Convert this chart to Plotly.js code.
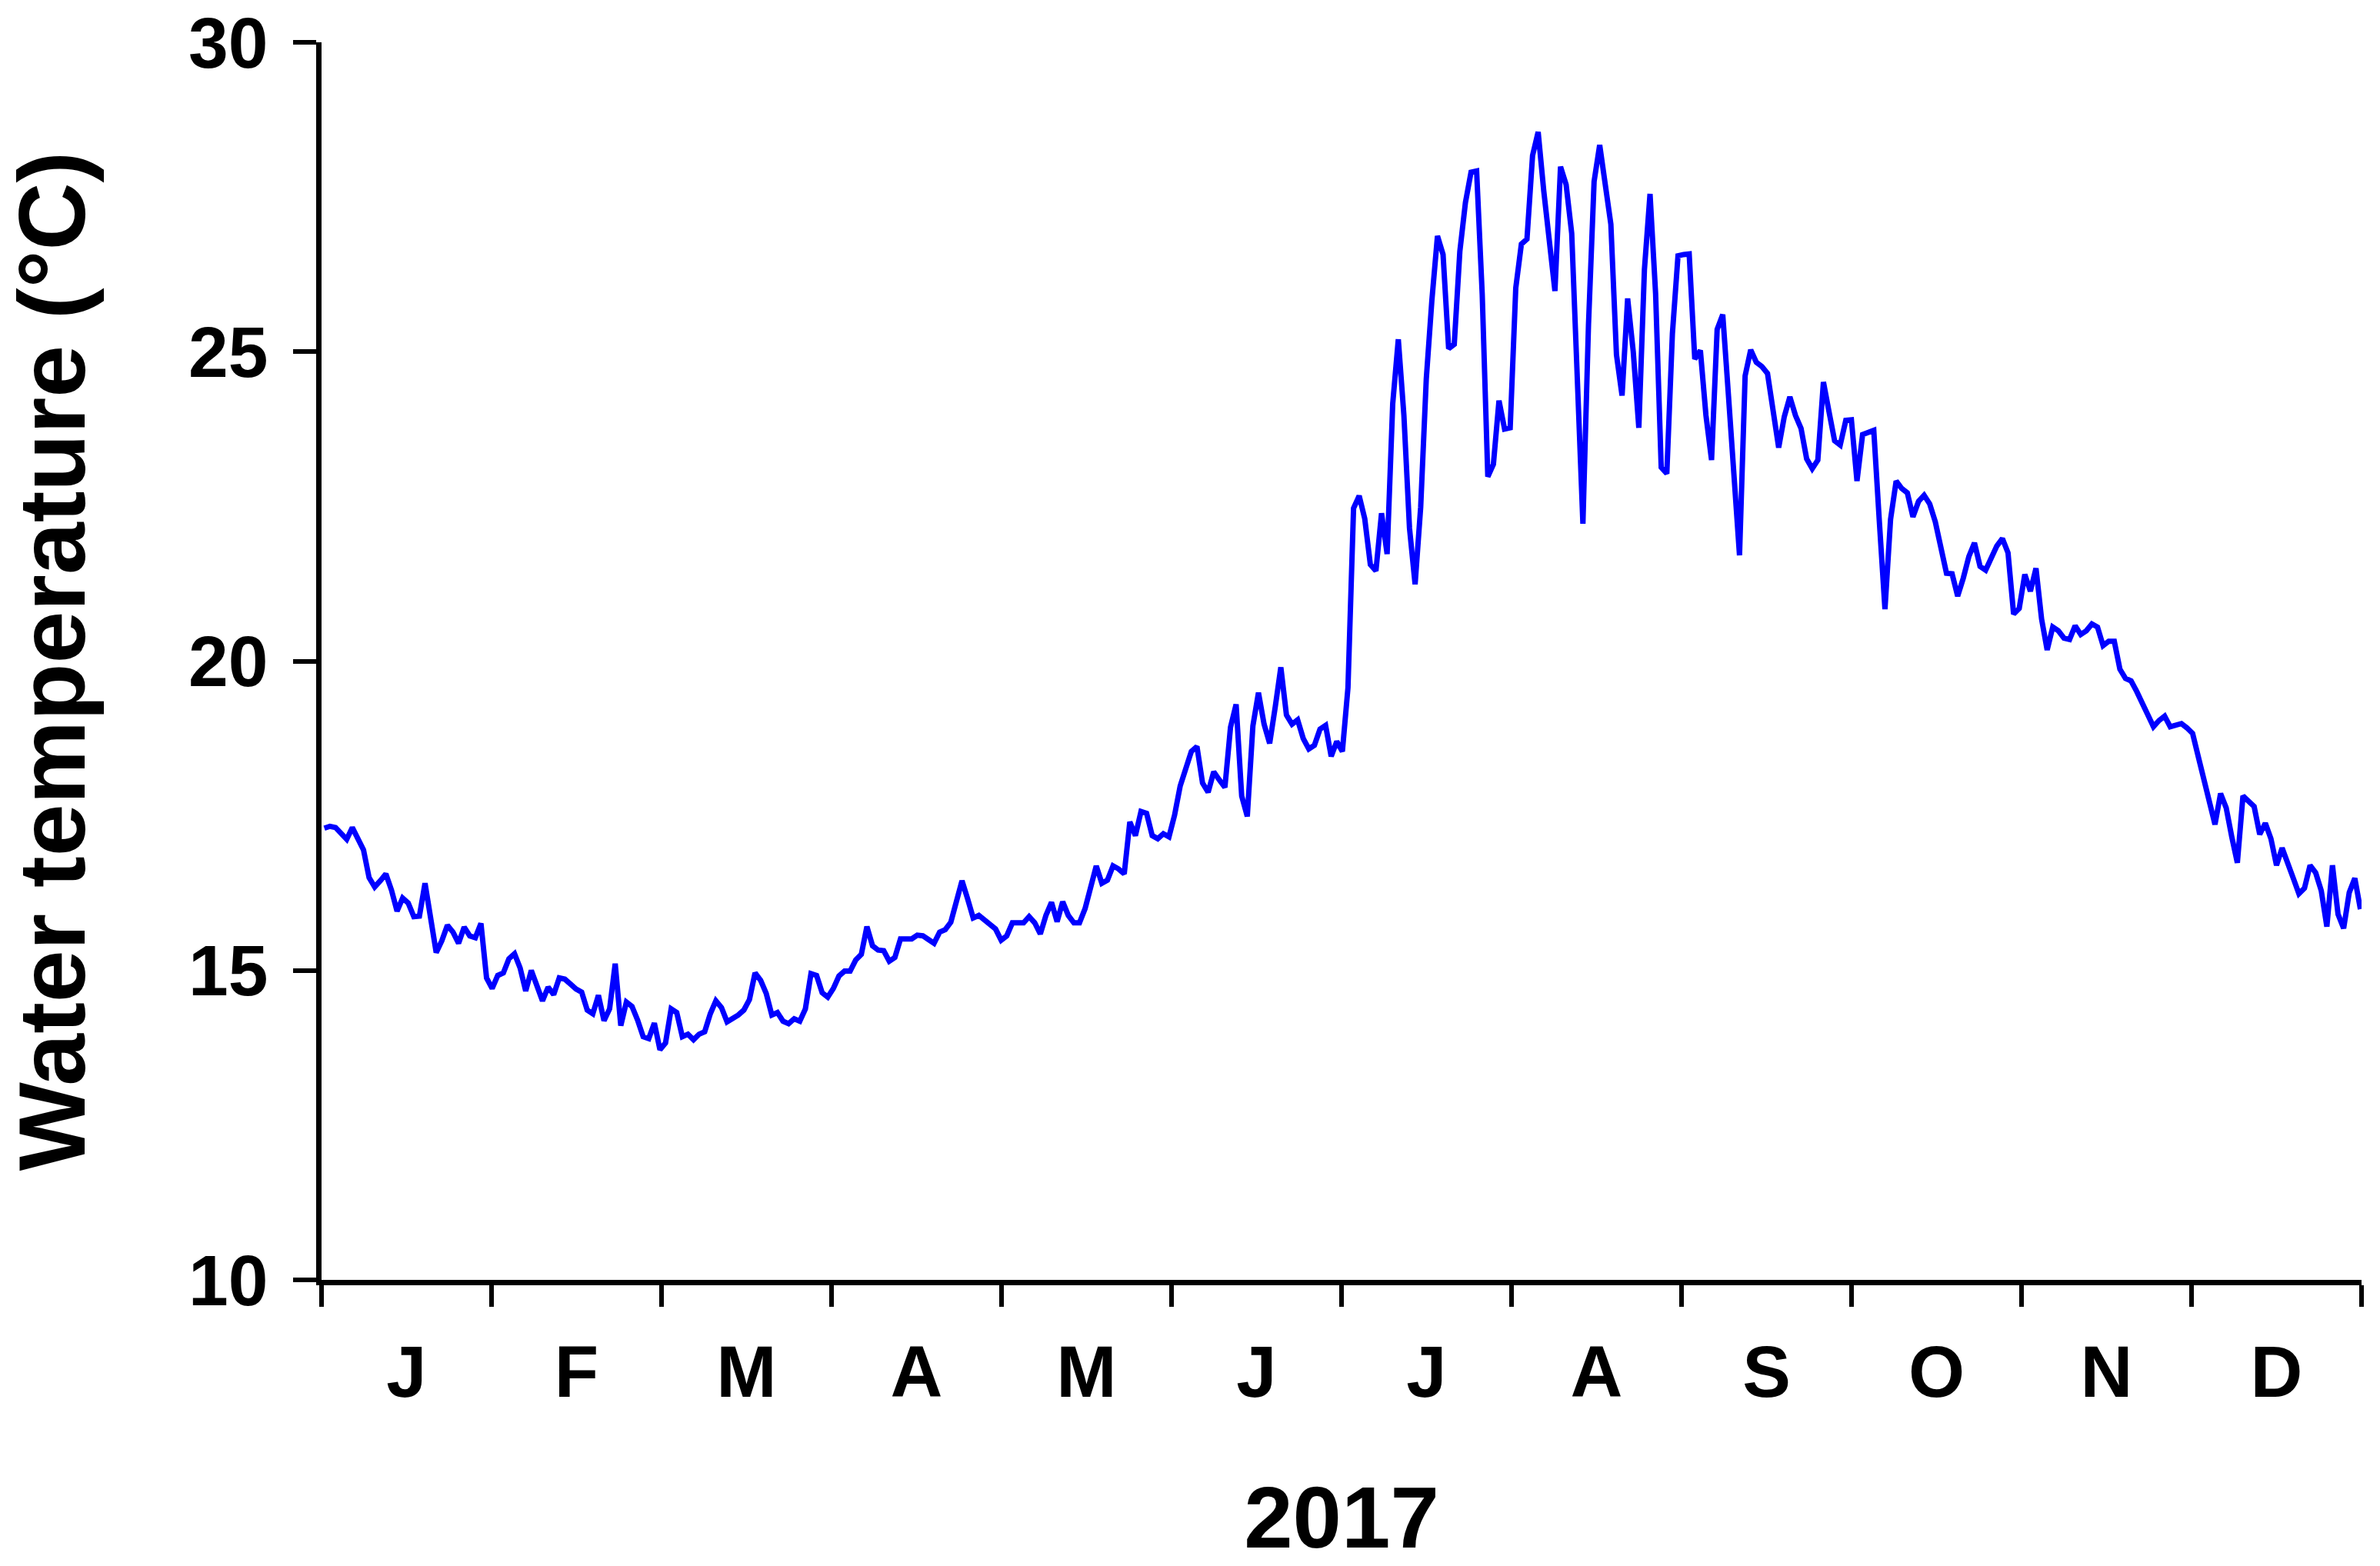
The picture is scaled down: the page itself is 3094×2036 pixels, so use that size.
<!DOCTYPE html>
<html>
<head>
<meta charset="utf-8">
<script src="https://cdn.plot.ly/plotly-3.0.1.min.js"></script>
<style>
  body { margin: 0; background: #fff; }
</style>
</head>
<body>
<div id="chart" style="width:3094px;height:2036px"></div>
<script>
// month initials shown under the axis
const months = ['J', 'F', 'M', 'A', 'M', 'J', 'J', 'A', 'S', 'O', 'N', 'D']

// daily water temperature, 2017 (deg C)
const temps = [
  17.30, 17.33, 17.31, 17.22, 17.12, 17.31, 17.15, 16.95, 16.50, 16.35,
  16.45, 16.56, 16.30, 15.96, 16.17, 16.09, 15.87, 15.88, 16.41, 15.85,
  15.29, 15.48, 15.73, 15.62, 15.44, 15.70, 15.56, 15.53, 15.76, 14.88,
  14.71, 14.92, 14.96, 15.19, 15.27, 15.04, 14.67, 15.00, 14.75, 14.51,
  14.73, 14.61, 14.88, 14.86, 14.78, 14.70, 14.65, 14.36, 14.30, 14.60,
  14.19, 14.38, 15.11, 14.11, 14.49, 14.42, 14.20, 13.93, 13.90, 14.15,
  13.72, 13.83, 14.38,
  14.32, 13.93, 13.97, 13.88, 13.97, 14.01, 14.30, 14.51, 14.40, 14.17,
  14.22, 14.28, 14.36, 14.53, 14.96, 14.84, 14.63, 14.28, 14.32, 14.18,
  14.14, 14.22, 14.18, 14.38, 14.95, 14.92, 14.64, 14.57, 14.71, 14.91,
  14.99, 14.99, 15.17, 15.26, 15.71, 15.40, 15.33, 15.32, 15.15, 15.21,
  15.51, 15.52, 15.51, 15.57, 15.56, 15.50, 15.44, 15.62, 15.66, 15.78,
  16.08, 16.45, 16.16, 15.85, 15.89, 15.82, 15.73, 15.67, 15.49, 15.56,
  15.77,
  15.77, 15.77, 15.87, 15.77, 15.59, 15.89, 16.10, 15.79, 16.11, 15.89,
  15.77, 15.77, 16.00, 16.38, 16.69, 16.41, 16.46, 16.69, 16.64, 16.56,
  17.40, 17.18, 17.57, 17.54, 17.18, 17.13, 17.21, 17.16, 17.51, 17.98,
  18.23, 18.54, 18.62, 18.03, 17.88, 18.21, 18.08, 17.96, 18.93, 19.30,
  17.82, 17.49, 18.95, 19.49, 18.98, 18.67, 19.26, 19.90, 19.13, 18.98,
  19.05, 18.75, 18.58, 18.64, 18.90, 18.96, 18.46, 18.70, 18.54, 19.57,
  22.47, 22.67,
  22.30, 21.56, 21.46, 22.39, 21.73, 24.16, 25.20, 23.97, 22.15, 21.24,
  22.49, 24.56, 25.83, 26.87, 26.57, 25.05, 25.12, 26.62, 27.41, 27.90,
  27.92, 25.93, 22.98, 23.18, 24.21, 23.75, 23.77, 26.03, 26.74, 26.82,
  28.17, 28.55, 27.60, 26.77, 25.98, 27.99, 27.70, 26.91, 24.46, 22.22,
  25.44, 27.75, 28.34, 27.75, 27.06, 24.95, 24.29, 25.86, 25.00, 23.77,
  26.33, 27.55, 25.93, 23.13, 23.03, 25.29, 26.55, 26.57, 26.58, 24.88,
  25.02, 23.97,
  23.25, 25.36, 25.60, 24.32, 23.00, 21.71, 24.61, 25.03, 24.83, 24.76,
  24.65, 24.05, 23.45, 23.95, 24.27, 23.97, 23.76, 23.27, 23.11, 23.25,
  24.51, 24.03, 23.56, 23.49, 23.89, 23.90, 22.91, 23.66, 23.70, 23.73,
  22.25, 20.84, 22.29, 22.91, 22.79, 22.72, 22.33, 22.58, 22.68, 22.54,
  22.25, 21.78, 21.42, 21.41, 21.05, 21.34, 21.69, 21.91, 21.53, 21.47,
  21.69, 21.86, 21.98, 21.75, 20.76, 20.85, 21.40, 21.13, 21.50, 20.68,
  20.18, 20.55,
  20.49, 20.37, 20.35, 20.57, 20.43, 20.49, 20.60, 20.55, 20.25, 20.32,
  20.32, 19.87, 19.72, 19.68, 19.51, 19.33, 19.12, 18.94, 19.04, 19.11,
  18.94, 18.97, 18.99, 18.92, 18.83, 18.46, 18.07, 17.72, 17.36, 17.86,
  17.63, 17.16, 16.74, 17.82, 17.73, 17.65, 17.20, 17.38, 17.13, 16.70,
  16.98, 16.70, 16.49, 16.24, 16.33, 16.70, 16.58, 16.29, 15.71, 16.70,
  15.91, 15.68, 16.26, 16.49, 15.99
]

const yTicks = [10, 15, 20, 25, 30]

// day number for each reading
const days = temps.map((t, i) => i)

// the year is split in 12 equal slots, ticks on the edges, letters in the middle
const xRange = [-0.5, 364.2]
const slot = (xRange[1] - xRange[0]) / 12
const monthEdges = []
const monthMids = []
for (let k = 0; k <= 12; k++) monthEdges.push(xRange[0] + k * slot)
for (let k = 0; k < 12; k++) monthMids.push(xRange[0] + (k + 0.5) * slot)

const font = { family: 'Arial, "Liberation Sans", sans-serif', color: '#000', weight: 'bold' }

const data = [{
  x: days,
  y: temps,
  type: 'scatter',
  mode: 'lines',
  line: { color: '#0000ff', width: 7 },
  hoverinfo: 'skip'
}]

const layout = {
  width: 3094,
  height: 2036,
  // top pushed down a little so the "30" label stays inside the page
  margin: { l: 418, r: 24, t: 55, b: 372, pad: 0 },
  paper_bgcolor: '#fff',
  plot_bgcolor: '#fff',
  showlegend: false,
  font: font,
  xaxis: {
    range: xRange,
    automargin: false,
    showgrid: false,
    zeroline: false,
    showline: true,
    linecolor: '#000',
    linewidth: 7,
    tickmode: 'array',
    tickvals: monthMids,
    ticktext: months,
    ticks: '',
    ticklabelstandoff: 32,
    ticklabeloverflow: 'allow',
    tickfont: { ...font, size: 94 },
    minor: {
      tickmode: 'array',
      tickvals: monthEdges,
      ticks: 'outside',
      ticklen: 28,
      tickwidth: 6,
      tickcolor: '#000',
      showgrid: false
    },
    title: { text: '2017', font: { ...font, size: 114 }, standoff: 125 }
  },
  yaxis: {
    range: [10, 30],
    automargin: false,
    showgrid: false,
    zeroline: false,
    showline: true,
    linecolor: '#000',
    linewidth: 7,
    tickmode: 'array',
    tickvals: yTicks,
    ticks: 'outside',
    ticklen: 30,
    tickwidth: 6,
    tickcolor: '#000',
    ticklabelstandoff: 14,
    ticklabeloverflow: 'allow',
    tickfont: { ...font, size: 93 },
    title: { text: 'Water temperature (°C)', font: { ...font, size: 122 }, standoff: 96 }
  }
}

Plotly.newPlot('chart', data, layout, { staticPlot: true, displayModeBar: false })
</script>
</body>
</html>
